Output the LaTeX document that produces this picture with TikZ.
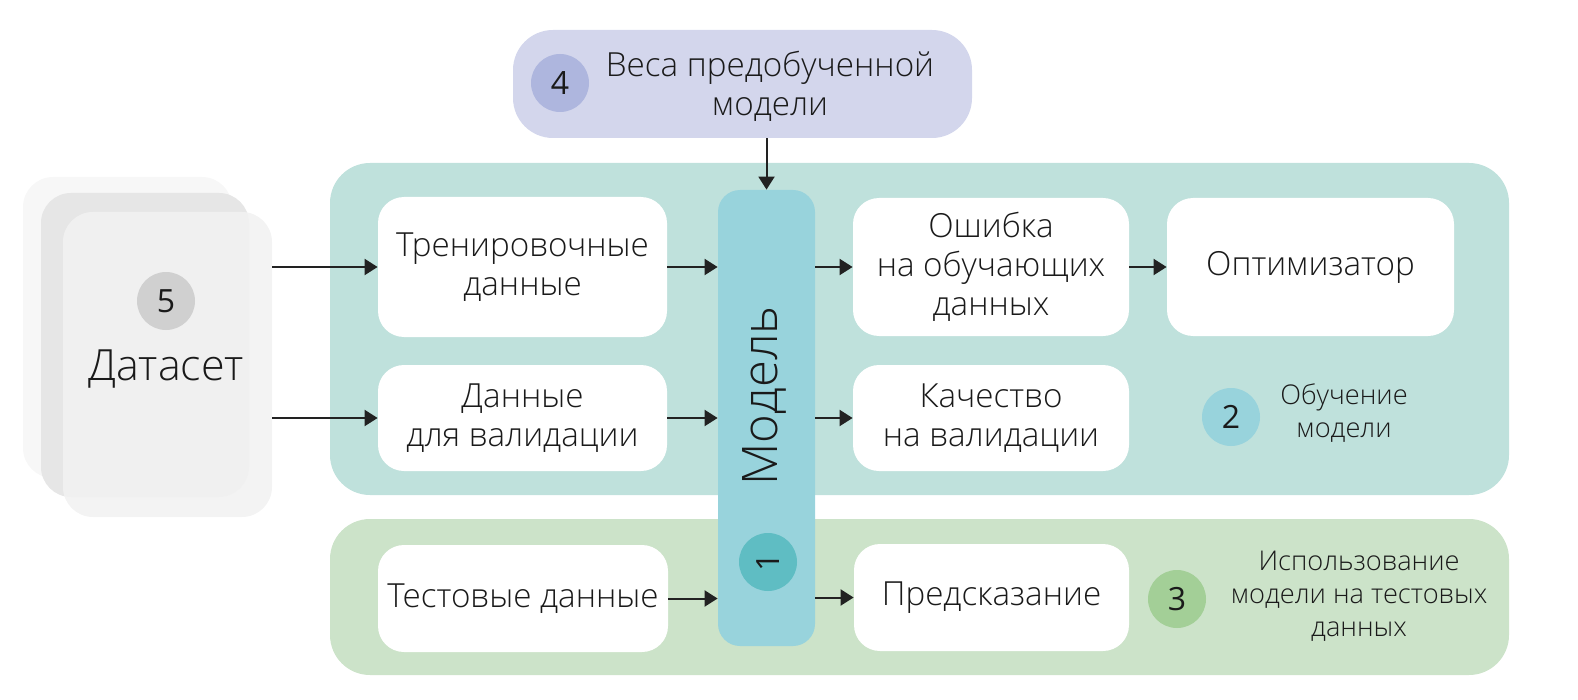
\documentclass[tikz,border=0pt]{standalone}
\usepackage{fontspec}
\setmainfont{Open Sans Light}[BoldFont={Open Sans}]
\newfontfamily\numfont{Open Sans}
\usetikzlibrary{arrows.meta}
\definecolor{ink}{HTML}{1A1A1A}
\definecolor{arrowc}{HTML}{222222}
\definecolor{trainc}{HTML}{BFE1DC}
\definecolor{testc}{HTML}{CCE3C9}
\definecolor{modelc}{HTML}{98D3DC}
\definecolor{onec}{HTML}{5FBDC3}
\definecolor{prec}{HTML}{D3D6EC}
\definecolor{fourc}{HTML}{AEB6DE}
\definecolor{twoc}{HTML}{98D3DC}
\definecolor{threec}{HTML}{A3CF97}
\definecolor{fivec}{HTML}{D0D0D0}
\definecolor{dsback}{HTML}{F7F7F7}
\definecolor{dsmid}{HTML}{E6E6E6}
\definecolor{dsfront}{HTML}{F2F2F2}
\tikzset{
  lbl/.style={text=ink, align=center, inner sep=0pt, font=\fontsize{16.6}{19.5}\selectfont},
  smalllbl/.style={text=ink, align=center, inner sep=0pt, font=\fontsize{13.6}{16.5}\selectfont},
  wbox/.style={lbl, fill=white, rounded corners=13pt},
  num/.style={circle, minimum size=29pt, inner sep=0pt, text=ink, font=\numfont\fontsize{16}{16}\selectfont},
  arr/.style={draw=arrowc, line width=1pt, -{Triangle[length=6.5pt,width=8pt]}},
  region/.style={rounded corners=20pt, inner sep=0pt},
  dsrect/.style={rounded corners=15pt, inner sep=0pt},
}
\begin{document}
\begin{tikzpicture}[x=0.5pt,y=-0.5pt]
\useasboundingbox (0,0) rectangle (1578,700);
% regions
\node[region, fill=trainc, minimum width=589.5pt, minimum height=166pt] (trainreg) at (919.5,329) {};
\node[region, fill=testc, minimum width=589.5pt, minimum height=78pt] (testreg) at (919.5,597) {};
% dataset stack
\node[dsrect, fill=dsback, minimum width=104.5pt, minimum height=150.5pt] (dsb) at (127.5,327.5) {};
\node[dsrect, fill=dsmid, minimum width=104pt, minimum height=152pt] (dsm) at (145,345) {};
\node[dsrect, fill=dsfront, fill opacity=0.9, minimum width=104.5pt, minimum height=152.5pt] (ds) at (167.5,364.5) {};
\node[num, fill=fivec] (c5) at (166,301) {5};
\node[text=ink, inner sep=0pt, anchor=base, font=\fontsize{21.5}{21.5}\selectfont] (dstxt) at (166,380) {Датасет};
% pretrained
\node[region, fill=prec, minimum width=229.5pt, minimum height=54pt] (pre) at (742.5,84) {};
\node[num, fill=fourc] (c4) at (560,83) {4};
\node[lbl] (pretxt) at (770,86) {Веса предобученной\\модели};
% model bar
\node[fill=modelc, rounded corners=11pt, inner sep=0pt, minimum width=48.5pt, minimum height=228pt] (model) at (766.5,418) {};
\node[text=ink, inner sep=0pt, rotate=90, font=\fontsize{24.5}{24.5}\selectfont] (modeltxt) at (764,396) {Модель};
\node[num, fill=onec, rotate=90] (c1) at (768,562) {1};
% white boxes
\node[wbox, minimum width=144.5pt, minimum height=70pt] (train) at (522.5,267) {Тренировочные\\данные};
\node[wbox, minimum width=144.5pt, minimum height=53pt] (val) at (522.5,418) {Данные\\для валидации};
\node[wbox, minimum width=138pt, minimum height=69pt] (err) at (991,267) {Ошибка\\на обучающих\\данных};
\node[wbox, minimum width=143.5pt, minimum height=69pt] (opt) at (1310.5,267) {Оптимизатор};
\node[wbox, minimum width=138pt, minimum height=53pt] (qual) at (991,418) {Качество\\на валидации};
\node[wbox, minimum width=145pt, minimum height=53.5pt] (test) at (523,598.5) {Тестовые данные};
\node[wbox, minimum width=137.5pt, minimum height=53.5pt] (pred) at (991.5,597.5) {Предсказание};
% stage labels
\node[num, fill=twoc] (c2) at (1231,417) {2};
\node[smalllbl] (c2txt) at (1344,413) {Обучение\\модели};
\node[num, fill=threec] (c3) at (1177,599) {3};
\node[smalllbl] (c3txt) at (1359,596) {Использование\\модели на тестовых\\данных};
% arrows
\draw[arr] (model.north |- pre.south) -- (model.north);
\draw[arr] (ds.east |- train.west) -- (train.west);
\draw[arr] (ds.east |- val.west) -- (val.west);
\draw[arr] (train.east) -- (model.west |- train.east);
\draw[arr] (val.east) -- (model.west |- val.east);
\draw[arr] (test.east) -- (model.west |- test.east);
\draw[arr] (model.east |- err.west) -- (err.west);
\draw[arr] (model.east |- qual.west) -- (qual.west);
\draw[arr] (model.east |- pred.west) -- (pred.west);
\draw[arr] (err.east) -- (opt.west);
\end{tikzpicture}
\end{document}
